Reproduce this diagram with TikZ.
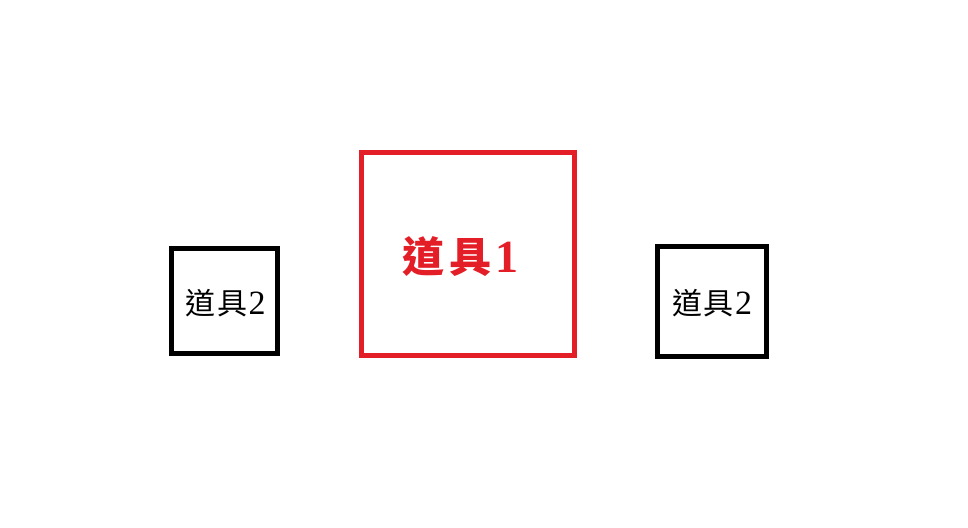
\documentclass[tikz,border=0pt]{standalone}
\usepackage{fontspec}
\newfontfamily\cjk{Noto Sans CJK TC}
\newfontfamily\digits{Liberation Serif}
\definecolor{toolred}{RGB}{228,30,38}
\tikzset{
	toolbox/.style={draw, line width=5pt, inner sep=0pt},
	bigtool/.style={toolbox, color=toolred, minimum width=213pt, minimum height=202.5pt},
	smalltool/.style={toolbox, color=black, minimum width=106pt, minimum height=105pt},
	bigname/.style={inner sep=0pt, text=toolred, font=\fontsize{42}{42}\selectfont},
	smallname/.style={inner sep=0pt, text=black, font=\fontsize{30}{30}\selectfont}
}
\begin{document}
\begin{tikzpicture}[x=1pt, y=-1pt]
		%%%%% START %%%%%
		\useasboundingbox[fill=white] (0, 0) rectangle (968, 527);
		
		\node[bigtool] (tool1) at (467.5, 253.75) {};
		\node[bigname] (tool1name) at (460, 257) {{\cjk\bfseries 道\hspace{6pt}具}\hspace{3pt}{\digits\bfseries\fontsize{46}{46}\selectfont 1}};
		
		\node[smalltool] (tool2left) at (224, 301) {};
		\node[smallname] (tool2leftname) at (225.5, 303.5) {{\cjk 道\hspace{2pt}具}\hspace{1pt}{\digits\fontsize{34}{34}\selectfont 2}};
		
		\node[smalltool, minimum width=109pt, minimum height=109.5pt] (tool2right) at (712, 301.25) {};
		\node[smallname] (tool2rightname) at (712, 303.5) {{\cjk 道\hspace{2pt}具}\hspace{1pt}{\digits\fontsize{34}{34}\selectfont 2}};
		%%%%% END %%%%%
\end{tikzpicture}
\end{document}
